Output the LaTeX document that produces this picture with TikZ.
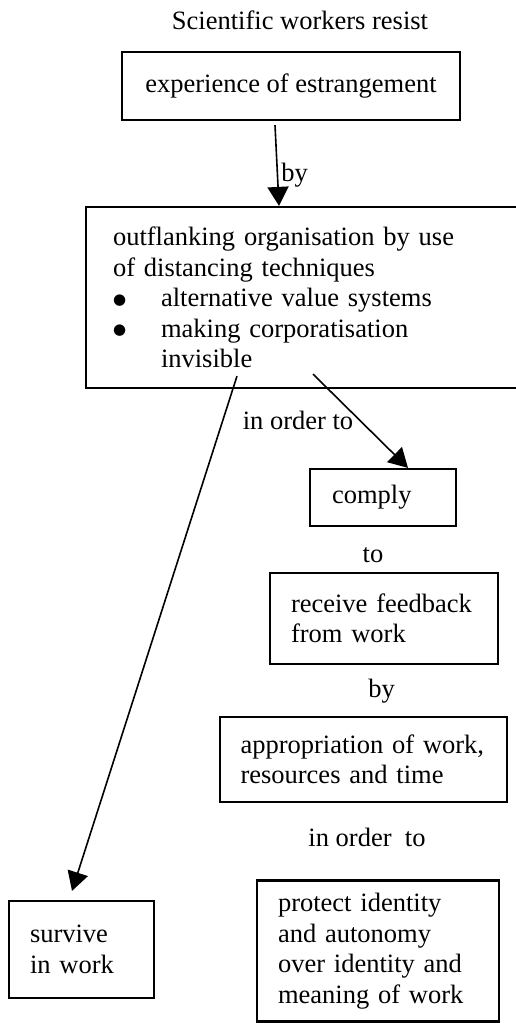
\documentclass[tikz,border=0pt]{standalone}
\usepackage{fontspec}
\setmainfont{Liberation Serif}
\newfontfamily\symfont{DejaVu Sans}
\usetikzlibrary{arrows.meta}
\newcommand{\bigbul}{\raisebox{2.5pt}{\symfont\fontsize{15}{15}\selectfont ●}}
\begin{document}
\begin{tikzpicture}[x=1pt,y=-1pt,
  every node/.style={font=\fontsize{26.5}{30.5}\selectfont, inner sep=0pt},
  box/.style={draw, line width=2.2pt, rectangle},
  lbl/.style={},
  arr/.style={line width=1.6pt, -{Triangle[length=19pt,width=21pt]}},
]
\useasboundingbox (0,0) rectangle (516,1023);
\fill[white] (0,0) rectangle (516,1023);

\node[lbl] (title) at (300,20) {Scientific workers resist};

\node[box, minimum width=338pt, minimum height=68pt, align=center] (estr) at (291,86) {experience of estrangement};

\node[box, minimum width=444pt, minimum height=181pt, text width=390pt, align=left] (outf) at (308,297.5)
  {outflanking organisation by use\\
   of distancing techniques\\
   \makebox[48pt][l]{\bigbul}alternative value systems\\
   \makebox[48pt][l]{\bigbul}making corporatisation\\
   \hspace*{48pt}invisible};

\node[box, minimum width=146pt, minimum height=57pt, text width=102pt, align=left] (comply) at (383,497.5) {comply};

\node[lbl] (to) at (373,555) {to};

\node[box, minimum width=228pt, minimum height=91pt, text width=186pt, align=left] (feed) at (384,618.5)
  {receive feedback\\from work};

\node[lbl] (by2) at (381.5,691) {by};

\node[box, minimum width=287pt, minimum height=85pt, text width=246pt, align=left] (appr) at (363.5,759.5)
  {appropriation of work,\\resources and time};

\node[lbl] (iot2) at (367,837) {in order\ \ to};

\node[box, minimum width=242pt, minimum height=141pt, text width=200pt, align=left] (prot) at (378,951)
  {protect identity\\and autonomy\\over identity and\\meaning of work};

\node[box, minimum width=145pt, minimum height=97pt, text width=103pt, align=left] (surv) at (81.5,949.5)
  {survive\\in work};

% connectors
\draw[arr] ([xshift=-16pt,yshift=-4pt]estr.south) -- ([xshift=-29pt]outf.north)
  node[pos=0.62, right=3pt] (by1) {by};
\draw[arr] ([xshift=5pt,yshift=15pt]outf.south) -- ([xshift=25pt]comply.north);
\draw[arr] ([xshift=-71pt,yshift=13pt]outf.south) -- ([xshift=-9.5pt,yshift=9pt]surv.north);

\node[lbl] (iot1) at (298,420) {in order to};
\end{tikzpicture}
\end{document}
